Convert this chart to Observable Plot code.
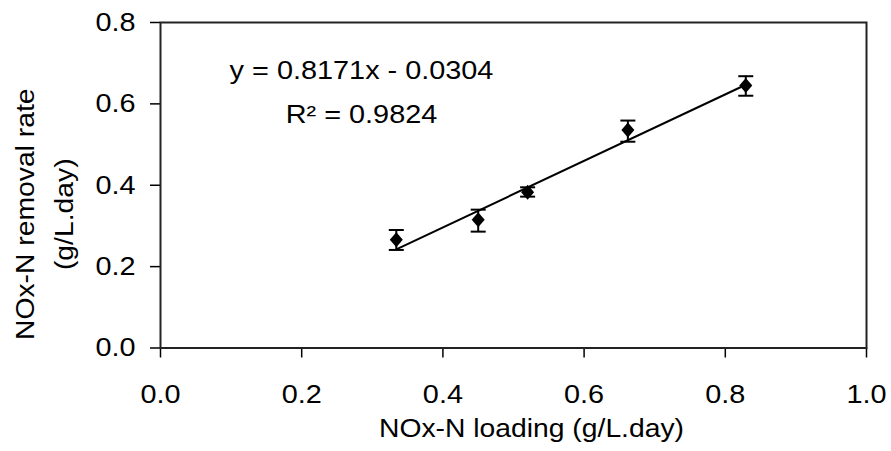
<!DOCTYPE html>
<html>
<head>
<meta charset="utf-8">
<script src="https://cdn.jsdelivr.net/npm/d3@7"></script>
<script src="https://cdn.jsdelivr.net/npm/@observablehq/plot@0.6"></script>
<style>
  html, body { margin: 0; padding: 0; background: #fff; }
  #chart svg { display: block; font-family: "Liberation Sans", Arial, sans-serif; }
</style>
</head>
<body>
<div id="chart"></div>
<script>
// NOx-N loading (g/L.day)
const loading = [0.334, 0.450, 0.520, 0.662, 0.829];
// NOx-N removal rate (g/L.day)
const removal = [0.266, 0.315, 0.383, 0.536, 0.645];
const errLow  = [0.241, 0.286, 0.372, 0.507, 0.620];
const errHigh = [0.290, 0.340, 0.395, 0.559, 0.668];
// regression shown on chart
const slope = 0.8171;
const intercept = -0.0304;
const eqLabel = "y = 0.8171x - 0.0304";
const r2Label = "R\u00B2 = 0.9824";
const xTicks = [0, 0.2, 0.4, 0.6, 0.8, 1.0];
const yTicks = [0, 0.2, 0.4, 0.6, 0.8];
const xLabel = "NOx-N loading (g/L.day)";
const yLabel1 = "NOx-N removal rate";
const yLabel2 = "(g/L.day)";

const data = loading.map((x, i) => ({x, y: removal[i], lo: errLow[i], hi: errHigh[i]}));
const xMin = d3.min(loading), xMax = d3.max(loading);
const fit = [xMin, xMax].map(x => ({x, y: slope * x + intercept}));

const diamond = {
  draw(ctx) {
    ctx.moveTo(0, -7.5); ctx.lineTo(6.5, 0); ctx.lineTo(0, 7.5); ctx.lineTo(-6.5, 0); ctx.closePath();
  }
};
const cap = {
  draw(ctx) { ctx.moveTo(-7.5, 0); ctx.lineTo(7.5, 0); }
};

const fmt = d3.format(".1f");
const W = 891, H = 451;

const chart = Plot.plot({
  width: W,
  height: H,
  marginLeft: 160,
  marginRight: 25,
  marginTop: 22,
  marginBottom: 103.5,
  style: {fontFamily: '"Liberation Sans", Arial, sans-serif', color: "#000", background: "#fff"},
  x: {domain: [0, 1]},
  y: {domain: [0, 0.8]},
  marks: [
    Plot.axisX({ticks: xTicks, tickFormat: fmt, tickSize: 10, tickPadding: 27, fontSize: 26, strokeWidth: 1.5, label: null}),
    Plot.axisY({ticks: yTicks, tickFormat: fmt, tickSize: 10, tickPadding: 15, fontSize: 26, strokeWidth: 1.5, label: null}),
    Plot.frame({stroke: "#222", strokeWidth: 2}),
    Plot.line(fit, {x: "x", y: "y", stroke: "#000", strokeWidth: 2}),
    Plot.ruleX(data, {x: "x", y1: "lo", y2: "hi", stroke: "#000", strokeWidth: 2}),
    Plot.dot(data, {x: "x", y: "lo", symbol: cap, stroke: "#000", strokeWidth: 2, fill: "none"}),
    Plot.dot(data, {x: "x", y: "hi", symbol: cap, stroke: "#000", strokeWidth: 2, fill: "none"}),
    Plot.dot(data, {x: "x", y: "y", symbol: diamond, fill: "#000", stroke: "none"}),
    Plot.text([eqLabel], {frameAnchor: "top-left", textAnchor: "middle", lineAnchor: "top", dx: 201, dy: 38, fontSize: 26, fill: "#000"}),
    Plot.text([r2Label], {frameAnchor: "top-left", textAnchor: "middle", lineAnchor: "top", dx: 201, dy: 82, fontSize: 26, fill: "#000"}),
    Plot.text([xLabel], {frameAnchor: "bottom", textAnchor: "middle", dx: 18, dy: 88.5, fontSize: 25.5, fill: "#000"}),
    Plot.text([yLabel1], {frameAnchor: "left", rotate: -90, textAnchor: "middle", dx: -135, dy: 29, fontSize: 25.5, fill: "#000"}),
    Plot.text([yLabel2], {frameAnchor: "left", rotate: -90, textAnchor: "middle", dx: -96, dy: 29, fontSize: 25.5, fill: "#000"})
  ]
});
// the reference lettering is slightly wide: stretch texts horizontally about their anchors
d3.select(chart).selectAll("text").each(function () {
  const t = this.getAttribute("transform") || "";
  this.setAttribute("transform", t + " scale(1.11,1)");
});
document.getElementById("chart").appendChild(chart);
</script>
</body>
</html>
